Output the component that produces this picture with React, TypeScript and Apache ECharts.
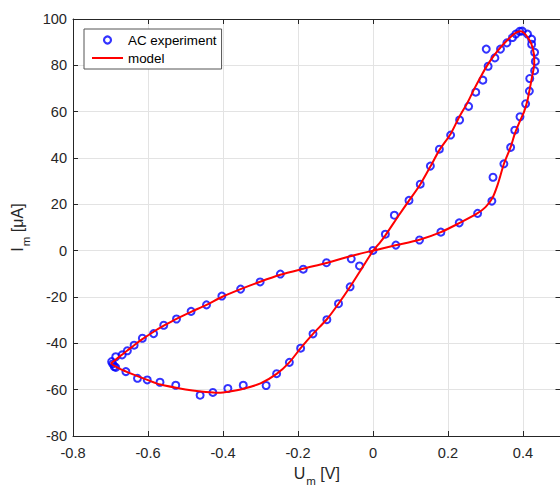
import React, { useEffect, useRef } from 'react';
import * as echarts from 'echarts';

// Experimental points (U in V, I in µA)
const expU = [
  0.0, 0.033, 0.057, 0.096, 0.126, 0.153, 0.177, 0.207, 0.231, 0.255, 0.274, 0.293, 0.307, 0.302,
  0.325, 0.34, 0.357, 0.372, 0.381, 0.391, 0.398, 0.412, 0.423, 0.423, 0.431, 0.433, 0.431, 0.418,
  0.417, 0.407, 0.392, 0.378, 0.367, 0.349, 0.32, 0.317, 0.279, 0.23, 0.181, 0.124, 0.061, -0.058,
  -0.124, -0.186, -0.247, -0.301, -0.353, -0.403, -0.444, -0.485, -0.524, -0.558, -0.585, -0.615,
  -0.637, -0.655, -0.669, -0.686, -0.697, -0.694, -0.69, -0.686, -0.659, -0.628, -0.602, -0.568,
  -0.526, -0.461, -0.427, -0.387, -0.346, -0.285, -0.257, -0.223, -0.193, -0.16, -0.123, -0.092,
  -0.061, -0.036,
];
const expI = [
  0.1, 7.1, 15.3, 21.7, 28.7, 36.5, 43.8, 49.9, 56.4, 62.3, 68.4, 73.6, 79.6, 87.0,
  83.2, 87.0, 89.7, 92.0, 93.5, 94.7, 94.8, 93.5, 91.3, 89.1, 85.6, 81.7, 77.7, 74.3,
  68.9, 63.4, 57.8, 52.0, 44.6, 37.5, 31.7, 21.4, 16.1, 12.0, 8.0, 4.6, 2.4, -3.5,
  -5.2, -8.0, -10.1, -13.5, -16.6, -19.6, -23.4, -26.2, -29.5, -32.2, -35.8, -37.8,
  -40.8, -43.2, -45.0, -45.8, -47.9, -48.9, -50.0, -50.4, -52.2, -55.1, -55.8, -56.8,
  -58.1, -62.4, -61.2, -59.5, -58.1, -58.2, -53.1, -48.2, -42.1, -35.9, -29.8, -22.9,
  -15.6, -6.6,
];

// Model curve, traced along the loop
const modelU = [
  0.0, 0.02, 0.033, 0.069, 0.096, 0.126, 0.153, 0.177, 0.207, 0.229, 0.252, 0.269, 0.287, 0.305,
  0.323, 0.341, 0.358, 0.376, 0.385, 0.393, 0.401, 0.412, 0.422, 0.429, 0.43, 0.425, 0.419, 0.412,
  0.403, 0.392, 0.378, 0.367, 0.349, 0.332, 0.318, 0.3, 0.278, 0.23, 0.181, 0.124, 0.06, 0.0,
  -0.058, -0.124, -0.186, -0.247, -0.301, -0.353, -0.403, -0.444, -0.485, -0.524, -0.558, -0.585,
  -0.615, -0.637, -0.655, -0.672, -0.688, -0.698, -0.68, -0.655, -0.6, -0.567, -0.5, -0.459, -0.42,
  -0.4, -0.353, -0.3, -0.257, -0.223, -0.193, -0.16, -0.123, -0.092, -0.061, -0.03, 0.0,
];
const modelI = [
  0.0, 3.8, 6.6, 15.3, 21.6, 28.6, 36.3, 43.4, 50.4, 57.4, 63.9, 69.5, 75.0, 80.1,
  84.3, 87.9, 90.8, 93.5, 94.4, 94.7, 94.2, 92.2, 89.4, 85.0, 80.7, 75.7, 70.7, 64.9,
  60.0, 56.0, 50.4, 44.7, 37.4, 28.3, 22.6, 18.8, 16.1, 11.9, 8.0, 4.7, 2.3, 0.0,
  -2.3, -5.3, -7.8, -10.4, -13.4, -16.6, -20.0, -23.4, -26.4, -29.4, -32.4, -35.0,
  -38.2, -40.8, -43.1, -45.2, -47.3, -48.6, -50.6, -52.4, -55.9, -57.8, -59.9, -60.8, -61.3,
  -61.2, -59.9, -57.3, -53.2, -48.2, -42.1, -35.9, -29.6, -22.9, -15.6, -7.7, 0.0,
];

const xMin = -0.8;
const xMax = 0.5;
const xStep = 0.2;
const yMin = -80;
const yMax = 100;
const yStep = 20;

const seriesNames = ['AC experiment', 'model'];
const xName = '{a|U}{b|m}{a| [V]}';
const yName = '{a|I}{b|m}{a| [μA]}';

const FONT = '"Liberation Sans", Arial, Helvetica, sans-serif';
const AX = '#262626';

export default function App() {
  const ref = useRef<HTMLDivElement>(null);

  useEffect(() => {
    if (!ref.current) return;
    const chart = echarts.init(ref.current, undefined, { renderer: 'svg' });

    const nameRich = {
      a: { fontSize: 16, lineHeight: 20, verticalAlign: 'top', color: AX, fontFamily: FONT },
      b: { fontSize: 11.5, lineHeight: 14, padding: [10, 0, 0, 1], verticalAlign: 'top', color: AX, fontFamily: FONT },
    };
    const lineStyle = { color: AX, width: 1 };

    const option: any = {
      animation: false,
      backgroundColor: '#ffffff',
      grid: {
        left: 73,
        top: 19,
        width: 487.5,
        height: 417,
        containLabel: false,
        outerBoundsMode: 'none',
      },
      legend: {
        orient: 'vertical',
        left: 84,
        top: 29,
        padding: [3, 5, 3, 7],
        itemWidth: 31,
        itemHeight: 7,
        itemGap: 2,
        backgroundColor: '#ffffff',
        borderColor: '#555555',
        borderWidth: 1,
        borderRadius: 0,
        textStyle: { fontSize: 13.4, color: '#000000', lineHeight: 16, fontFamily: FONT },
        data: [
          {
            name: seriesNames[0],
            icon: 'circle',
            itemStyle: { color: 'rgba(0,0,0,0)', borderColor: '#0000ff', borderWidth: 2.2 },
          },
          {
            name: seriesNames[1],
            itemStyle: { color: 'rgba(0,0,0,0)', borderColor: 'rgba(0,0,0,0)', borderWidth: 0, opacity: 0 },
            lineStyle: { color: '#ff0000', width: 2, opacity: 1 },
          },
        ],
      },
      xAxis: [
        {
          type: 'value',
          position: 'bottom',
          min: xMin,
          max: xMax,
          interval: xStep,
          axisLine: { onZero: false, lineStyle },
          axisTick: { inside: true, length: 5, lineStyle },
          axisLabel: {
            color: AX,
            fontSize: 14.6,
            fontFamily: FONT,
            margin: 9,
            formatter: (v: number) => (v > 0.45 ? '' : String(Math.round(v * 10) / 10)),
          },
          splitLine: { show: true, lineStyle: { color: '#e3e3e3', width: 1 } },
          name: xName,
          nameLocation: 'middle',
          nameGap: 29,
          nameTextStyle: { fontSize: 16, color: AX, fontFamily: FONT, rich: nameRich },
        },
        {
          type: 'value',
          position: 'top',
          min: xMin,
          max: xMax,
          interval: xStep,
          axisLine: { onZero: false, lineStyle },
          axisTick: { inside: true, length: 5, lineStyle },
          axisLabel: { show: false },
          splitLine: { show: false },
        },
      ],
      yAxis: [
        {
          type: 'value',
          position: 'left',
          min: yMin,
          max: yMax,
          interval: yStep,
          axisLine: { show: true, onZero: false, lineStyle },
          axisTick: { show: true, inside: true, length: 5, lineStyle },
          axisLabel: { color: AX, fontSize: 14.6, fontFamily: FONT, margin: 6 },
          splitLine: { show: true, lineStyle: { color: '#e3e3e3', width: 1 } },
          name: yName,
          nameLocation: 'middle',
          nameRotate: 90,
          nameGap: 38,
          nameTextStyle: { fontSize: 16, color: AX, fontFamily: FONT, rich: nameRich },
        },
        {
          type: 'value',
          position: 'right',
          min: yMin,
          max: yMax,
          interval: yStep,
          axisLine: { show: true, onZero: false, lineStyle },
          axisTick: { show: true, inside: true, length: 5, lineStyle },
          axisLabel: { show: false },
          splitLine: { show: false },
        },
      ],
      series: [
        {
          name: seriesNames[0],
          type: 'scatter',
          xAxisIndex: 0,
          yAxisIndex: 0,
          symbol: 'circle',
          symbolSize: 7,
          itemStyle: { color: 'rgba(0,0,0,0)', borderColor: '#0000ff', borderWidth: 2 },
          data: expU.map((u, i) => [u, expI[i]]),
        },
        {
          name: seriesNames[1],
          type: 'line',
          xAxisIndex: 0,
          yAxisIndex: 0,
          symbol: 'none',
          showSymbol: false,
          smooth: 0.25,
          lineStyle: { color: '#ff0000', width: 2 },
          itemStyle: { color: '#ff0000' },
          data: modelU.map((u, i) => [u, modelI[i]]),
        },
      ],
    };

    chart.setOption(option);
    return () => chart.dispose();
  }, []);

  return (
    <div
      ref={ref}
      style={{ position: 'fixed', left: 0, top: 0, width: 560, height: 486, background: '#ffffff' }}
    />
  );
}
